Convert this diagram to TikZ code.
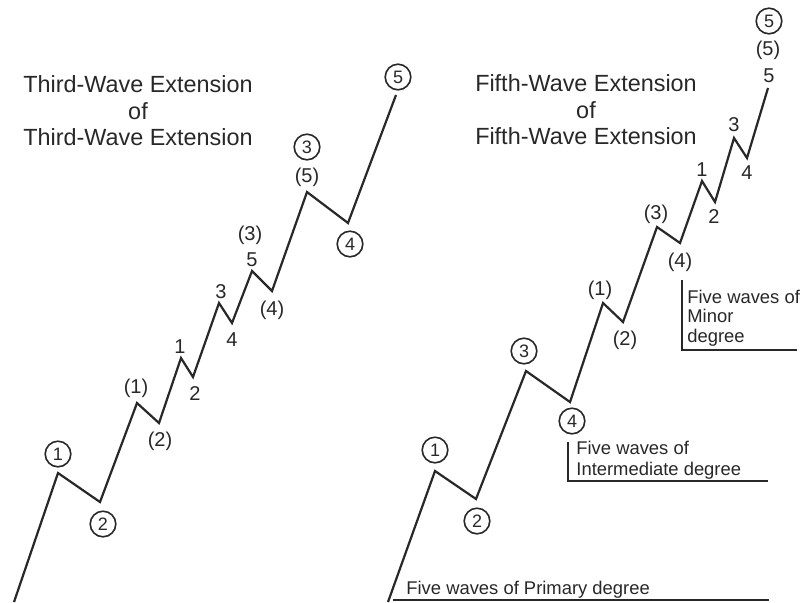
\documentclass[tikz,border=0pt]{standalone}
\usepackage{fontspec}
\setmainfont{Liberation Sans}
\usepackage{xcolor}
\definecolor{inkgrey}{RGB}{40,40,40}
\definecolor{paperwhite}{RGB}{255,255,255}

\tikzset{
  wave/.style={inkgrey,line width=1.1pt,line join=miter},
  circlbl/.style={circle,draw=inkgrey,line width=0.8pt,inner sep=0pt,minimum size=12.8pt,
    text=inkgrey,font=\fontsize{9}{9}\selectfont},
  numlbl/.style={text=inkgrey,font=\fontsize{10}{10}\selectfont,inner sep=0pt},
  titletext/.style={text=inkgrey,font=\fontsize{11.7}{13.3}\selectfont,align=center},
  degreetext/.style={text=inkgrey,anchor=west,align=left,inner sep=0pt},
  bracketline/.style={inkgrey,line width=0.7pt}
}

\begin{document}
\begin{tikzpicture}[x=0.5pt,y=-0.5pt]
  % --- background ---
  \fill[paperwhite] (0,0) rectangle (802,602);
  \useasboundingbox (0,0) rectangle (802,602);

  % --- left chart: third-wave extension ---
  \foreach \n/\p in {L0/{14,602},L1/{58,473},L2/{100,502},L3/{137,403},L4/{159,423},
      L5/{181,358},L6/{193,377},L7/{219,303},L8/{232,323},L9/{252,271},
      L10/{272,291},L11/{307,192},L12/{348,223},L13/{396,95}}{
    \coordinate (\n) at (\p);
  }
  \draw[wave] (L0) \foreach \i in {1,...,13}{ -- (L\i)};

  % circled (primary) labels
  \foreach \n/\p/\t in {lp1/{58,454}/1,lp2/{103,524}/2,lp3/{307,147}/3,
      lp4/{350,244}/4,lp5/{398,77}/5}{
    \node[circlbl] (\n) at (\p) {\t};
  }
  % bracketed and plain labels
  \foreach \n/\p/\t in {li1/{136,388}/(1),li2/{160,441}/(2),li3/{250,235}/(3),
      li4/{272,310}/(4),li5/{307,177}/(5),
      lm1/{180,347}/1,lm2/{195,393}/2,lm3/{221,292}/3,lm4/{232,340}/4,lm5/{252,260}/5}{
    \node[numlbl] (\n) at (\p) {\t};
  }

  \node[titletext] (lefttitle) at (138,111)
    {Third-Wave Extension\\of\\Third-Wave Extension};

  % --- right chart: fifth-wave extension ---
  \foreach \n/\p in {R0/{388,602},R1/{435,471},R2/{476,499},R3/{526,371},R4/{570,402},
      R5/{603,303},R6/{623,322},R7/{657,227},R8/{680,243},R9/{702,181},
      R10/{715,202},R11/{734,138},R12/{747,158},R13/{768,88}}{
    \coordinate (\n) at (\p);
  }
  \draw[wave] (R0) \foreach \i in {1,...,13}{ -- (R\i)};

  \foreach \n/\p/\t in {rp1/{435,450}/1,rp2/{477,521}/2,rp3/{524,351}/3,
      rp4/{572,421}/4,rp5/{769,21}/5}{
    \node[circlbl] (\n) at (\p) {\t};
  }
  \foreach \n/\p/\t in {ri1/{600,290}/(1),ri2/{625,340}/(2),ri3/{656,214}/(3),
      ri4/{680,262}/(4),ri5/{768,50}/(5),
      rm1/{702,170}/1,rm2/{714,217}/2,rm3/{734,125}/3,rm4/{747,173}/4,rm5/{769,76}/5}{
    \node[numlbl] (\n) at (\p) {\t};
  }

  \node[titletext] (righttitle) at (586,110)
    {Fifth-Wave Extension\\of\\Fifth-Wave Extension};

  % --- degree brackets ---
  \coordinate (primA) at (393,600);
  \coordinate (primB) at (769,600);
  \draw[bracketline] (primA) -- (primB);
  \node[degreetext,font=\fontsize{9.2}{10}\selectfont] (primtext) at (406,590)
    {Five waves of Primary degree};

  \coordinate (interA) at (568,442);
  \coordinate (interB) at (568,481);
  \coordinate (interC) at (768,481);
  \draw[bracketline] (interA) -- (interB) -- (interC);
  \node[degreetext,font=\fontsize{9.2}{10.5}\selectfont] (intertext) at (576,460)
    {Five waves of\\Intermediate degree};

  \coordinate (minorA) at (682,280);
  \coordinate (minorB) at (682,350);
  \coordinate (minorC) at (797,350);
  \draw[bracketline] (minorA) -- (minorB) -- (minorC);
  \node[degreetext,font=\fontsize{9.2}{9.75}\selectfont] (minortext) at (687,318)
    {Five waves of\\Minor\\degree};

\end{tikzpicture}
\end{document}
